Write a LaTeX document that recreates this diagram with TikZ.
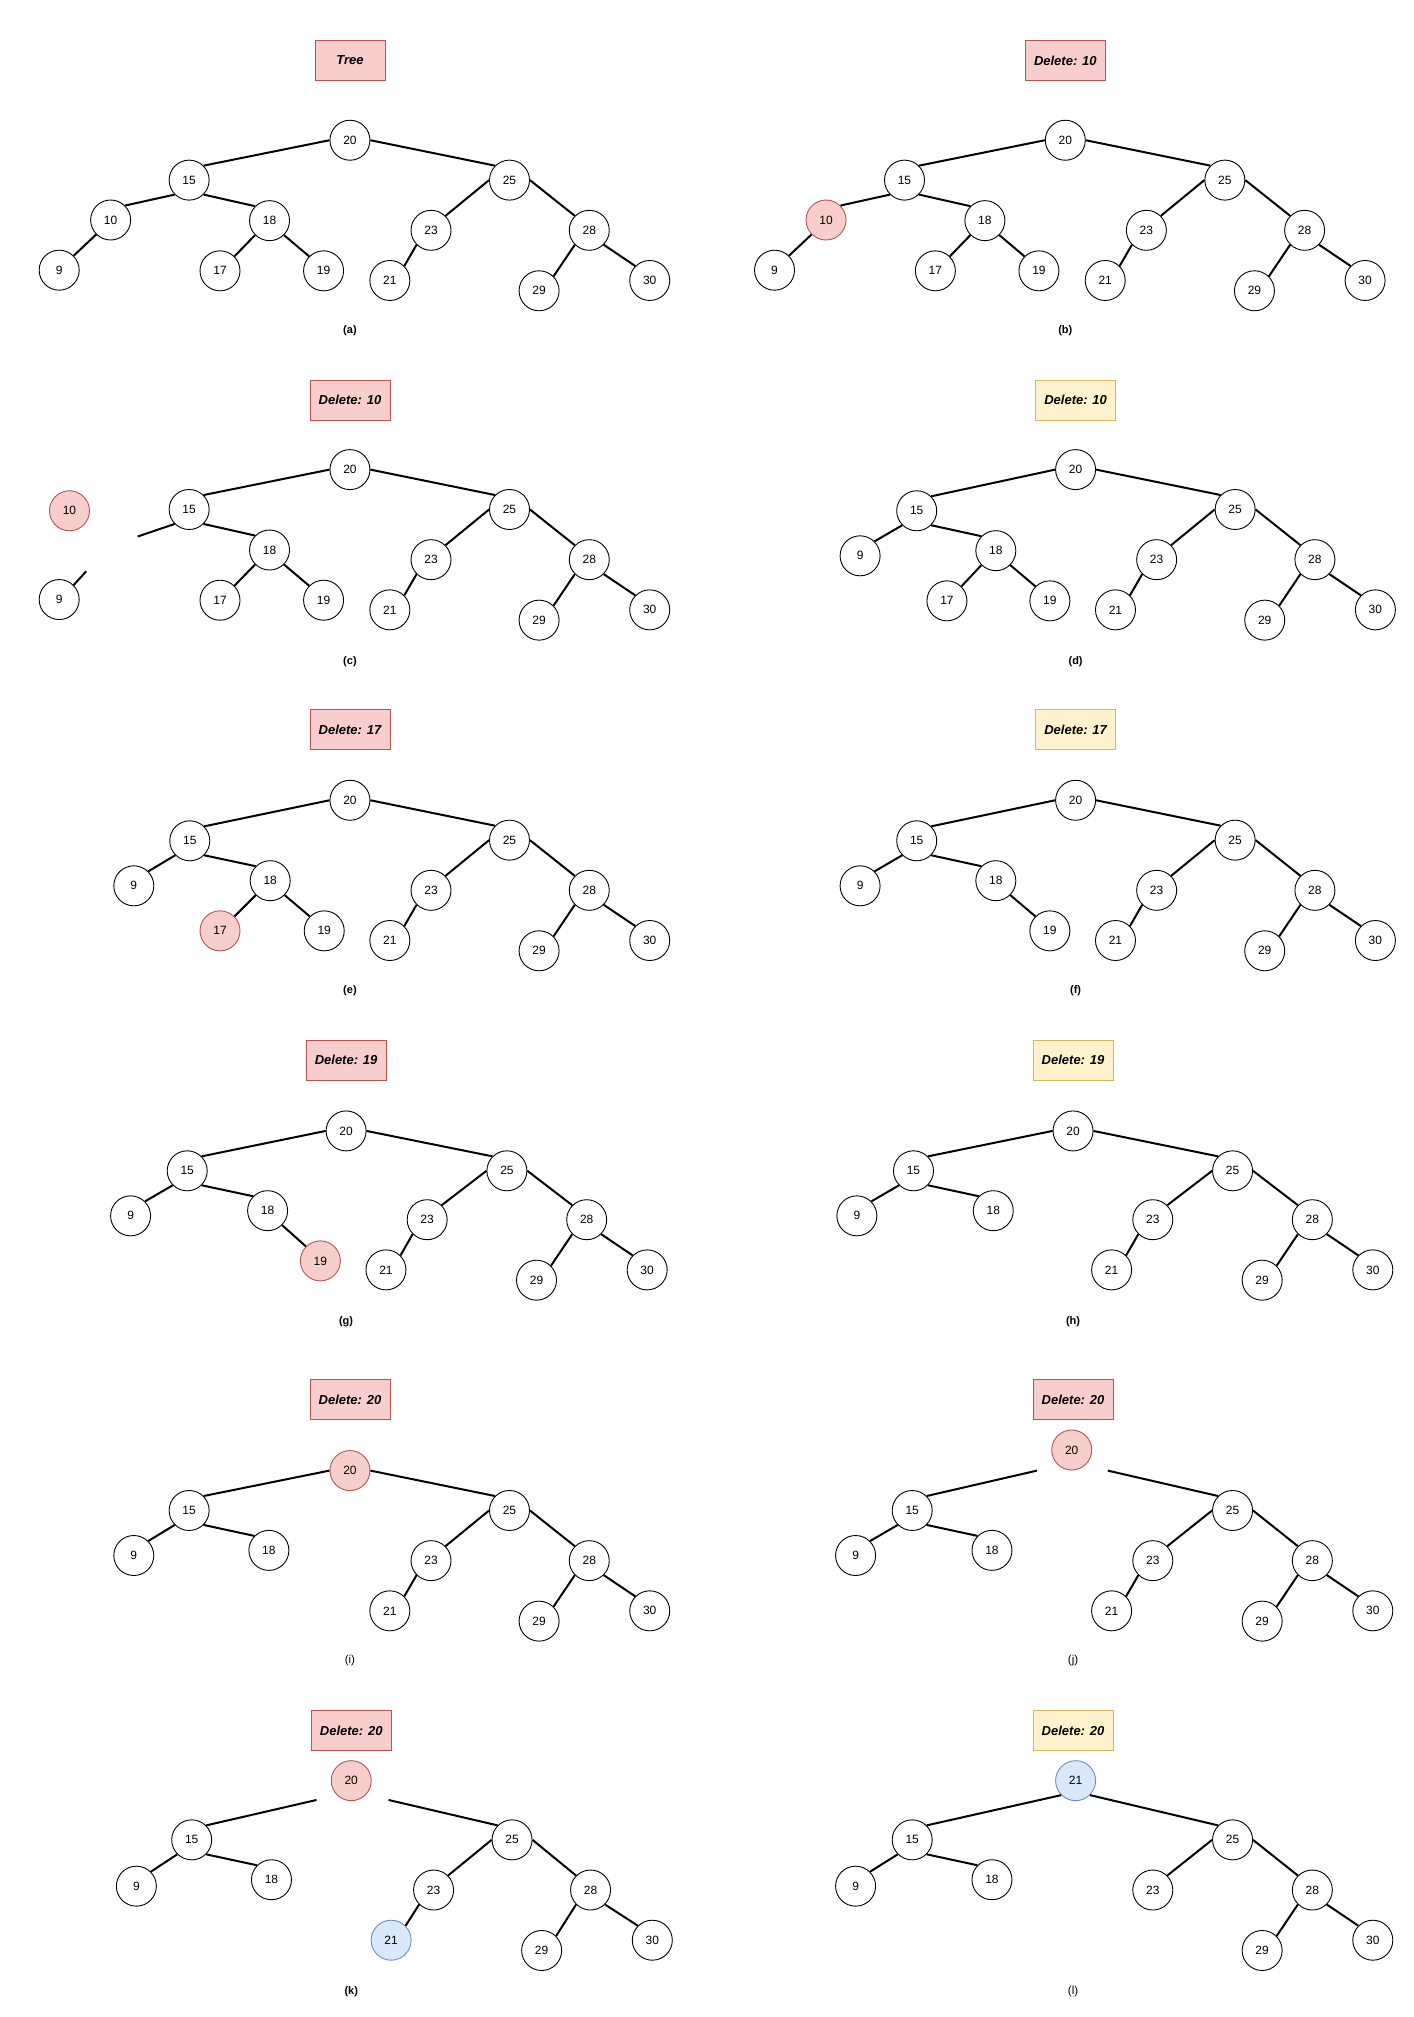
\documentclass[tikz,border=0pt]{standalone}
\usepackage{fontspec}
\setmainfont{Liberation Sans}
\definecolor{redfill}{HTML}{F8CECC}
\definecolor{redline}{HTML}{B85450}
\definecolor{yelfill}{HTML}{FFF2CC}
\definecolor{yelline}{HTML}{D6B656}
\definecolor{bluefill}{HTML}{DAE8FC}
\definecolor{blueline}{HTML}{6C8EBF}
\tikzset{
  nd/.style={circle, draw=black, line width=0.9pt, fill=white, minimum size=40pt, inner sep=0pt, font=\fontsize{12}{14}\selectfont},
  rednd/.style={nd, draw=redline, fill=redfill},
  bluend/.style={nd, draw=blueline, fill=bluefill},
  redbox/.style={rectangle, draw=redline, fill=redfill, line width=0.9pt, minimum width=80pt, minimum height=40pt, font=\bfseries\itshape\fontsize{13}{15}\selectfont},
  yelbox/.style={redbox, draw=yelline, fill=yelfill},
  capb/.style={font=\bfseries\fontsize{11}{13}\selectfont},
  capr/.style={font=\fontsize{11.5}{13}\selectfont},
  edge/.style={line width=2pt}
}
\begin{document}
\begin{tikzpicture}[x=1.28662pt, y=-1.28662pt]
\useasboundingbox[fill=white] (0,0) rectangle (1099,1567.7);

% ---------- (a)
\node[redbox, minimum width=70pt] (at) at (272,47) {Tree};
\node[nd] (a20) at (272,109) {20};
\node[nd] (a15) at (147,140) {15};
\node[nd] (a10) at (86,171) {10};
\node[nd] (a18) at (209.5,171.5) {18};
\node[nd] (a9) at (46,210) {9};
\node[nd] (a17) at (171,210.5) {17};
\node[nd] (a19) at (251.5,210.5) {19};
\node[nd] (a25) at (396,140) {25};
\node[nd] (a23) at (335,179) {23};
\node[nd] (a28) at (458,179) {28};
\node[nd] (a21) at (303,218) {21};
\node[nd] (a29) at (419,226) {29};
\node[nd] (a30) at (505,218) {30};
\node[capb] (al) at (272,257) {(a)};
\draw[edge] (a20.west)--(a15.north east) (a20.east)--(a25.north west)
  (a15.south west)--(a10.north east) (a15.south east)--(a18.north west)
  (a10.south west)--(a9.north east) (a18.south west)--(a17.north east) (a18.south east)--(a19.north west)
  (a25.west)--(a23.north east) (a25.east)--(a28.north west) (a23.south west)--(a21.north east)
  (a28.south west)--(a29.north east) (a28.south east)--(a30.north west);

% ---------- (b)
\node[redbox] (bt) at (828,47) {Delete: 10};
\node[nd] (b20) at (828,109) {20};
\node[nd] (b15) at (703,140) {15};
\node[rednd] (b10) at (642,171) {10};
\node[nd] (b18) at (765.5,171.5) {18};
\node[nd] (b9) at (602,210) {9};
\node[nd] (b17) at (727,210.5) {17};
\node[nd] (b19) at (807.5,210.5) {19};
\node[nd] (b25) at (952,140) {25};
\node[nd] (b23) at (891,179) {23};
\node[nd] (b28) at (1014,179) {28};
\node[nd] (b21) at (859,218) {21};
\node[nd] (b29) at (975,226) {29};
\node[nd] (b30) at (1061,218) {30};
\node[capb] (bl) at (828,257) {(b)};
\draw[edge] (b20.west)--(b15.north east) (b20.east)--(b25.north west)
  (b15.south west)--(b10.north east) (b15.south east)--(b18.north west)
  (b10.south west)--(b9.north east) (b18.south west)--(b17.north east) (b18.south east)--(b19.north west)
  (b25.west)--(b23.north east) (b25.east)--(b28.north west) (b23.south west)--(b21.north east)
  (b28.south west)--(b29.north east) (b28.south east)--(b30.north west);

% ---------- (c)
\node[redbox] (ct) at (272,311) {Delete: 10};
\node[nd] (c20) at (272,365) {20};
\node[nd] (c15) at (147,396) {15};
\node[rednd] (c10) at (54,397) {10};
\node[nd] (c18) at (209.5,427.5) {18};
\node[nd] (c9) at (46,466) {9};
\node[nd] (c17) at (171,466.5) {17};
\node[nd] (c19) at (251.5,466.5) {19};
\node[nd] (c25) at (396,396) {25};
\node[nd] (c23) at (335,435) {23};
\node[nd] (c28) at (458,435) {28};
\node[nd] (c21) at (303,474) {21};
\node[nd] (c29) at (419,482) {29};
\node[nd] (c30) at (505,474) {30};
\coordinate (cf1) at (107,417);
\coordinate (cf2) at (67,444);
\node[capb] (cl) at (272,514) {(c)};
\draw[edge] (c20.west)--(c15.north east) (c20.east)--(c25.north west)
  (c15.south west)--(cf1) (c15.south east)--(c18.north west)
  (c9.north east)--(cf2) (c18.south west)--(c17.north east) (c18.south east)--(c19.north west)
  (c25.west)--(c23.north east) (c25.east)--(c28.north west) (c23.south west)--(c21.north east)
  (c28.south west)--(c29.north east) (c28.south east)--(c30.north west);

% ---------- (d)
\node[yelbox] (dt) at (836,311) {Delete: 10};
\node[nd] (d20) at (836,365) {20};
\node[nd] (d15) at (712.5,397) {15};
\node[nd] (d9) at (668.5,432) {9};
\node[nd] (d18) at (774,428) {18};
\node[nd] (d17) at (736,467) {17};
\node[nd] (d19) at (816,467) {19};
\node[nd] (d25) at (960,396) {25};
\node[nd] (d23) at (899,435) {23};
\node[nd] (d28) at (1022,435) {28};
\node[nd] (d21) at (867,474) {21};
\node[nd] (d29) at (983,482) {29};
\node[nd] (d30) at (1069,474) {30};
\node[capb] (dl) at (836,514) {(d)};
\draw[edge] (d20.west)--(d15.north east) (d20.east)--(d25.north west)
  (d15.south west)--(d9.north east) (d15.south east)--(d18.north west)
  (d18.south west)--(d17.north east) (d18.south east)--(d19.north west)
  (d25.west)--(d23.north east) (d25.east)--(d28.north west) (d23.south west)--(d21.north east)
  (d28.south west)--(d29.north east) (d28.south east)--(d30.north west);

% ---------- (e)
\node[redbox] (et) at (272,567) {Delete: 17};
\node[nd] (e20) at (272,622) {20};
\node[nd] (e15) at (147.5,653.5) {15};
\node[nd] (e9) at (104,688.5) {9};
\node[nd] (e18) at (210,684.5) {18};
\node[rednd] (e17) at (171,723.5) {17};
\node[nd] (e19) at (252,723.5) {19};
\node[nd] (e25) at (396,653) {25};
\node[nd] (e23) at (335,692) {23};
\node[nd] (e28) at (458,692) {28};
\node[nd] (e21) at (303,731) {21};
\node[nd] (e29) at (419,739) {29};
\node[nd] (e30) at (505,731) {30};
\node[capb] (el) at (272,770) {(e)};
\draw[edge] (e20.west)--(e15.north east) (e20.east)--(e25.north west)
  (e15.south west)--(e9.north east) (e15.south east)--(e18.north west)
  (e18.south west)--(e17.north east) (e18.south east)--(e19.north west)
  (e25.west)--(e23.north east) (e25.east)--(e28.north west) (e23.south west)--(e21.north east)
  (e28.south west)--(e29.north east) (e28.south east)--(e30.north west);

% ---------- (f)
\node[yelbox] (ft) at (836,567) {Delete: 17};
\node[nd] (f20) at (836,622) {20};
\node[nd] (f15) at (712.5,653.5) {15};
\node[nd] (f9) at (668.5,688.5) {9};
\node[nd] (f18) at (774,684.5) {18};
\node[nd] (f19) at (816,723.5) {19};
\node[nd] (f25) at (960,653) {25};
\node[nd] (f23) at (899,692) {23};
\node[nd] (f28) at (1022,692) {28};
\node[nd] (f21) at (867,731) {21};
\node[nd] (f29) at (983,739) {29};
\node[nd] (f30) at (1069,731) {30};
\node[capb] (fl) at (836,770) {(f)};
\draw[edge] (f20.west)--(f15.north east) (f20.east)--(f25.north west)
  (f15.south west)--(f9.north east) (f15.south east)--(f18.north west)
  (f18.south east)--(f19.north west)
  (f25.west)--(f23.north east) (f25.east)--(f28.north west) (f23.south west)--(f21.north east)
  (f28.south west)--(f29.north east) (f28.south east)--(f30.north west);

% ---------- (g)
\node[redbox] (gt) at (269,824) {Delete: 19};
\node[nd] (g20) at (269,879) {20};
\node[nd] (g15) at (145.5,910) {15};
\node[nd] (g9) at (101.5,945) {9};
\node[nd] (g18) at (208,941) {18};
\node[rednd] (g19) at (249,980) {19};
\node[nd] (g25) at (394,910) {25};
\node[nd] (g23) at (332,948) {23};
\node[nd] (g28) at (456,948) {28};
\node[nd] (g21) at (300,987) {21};
\node[nd] (g29) at (417,995) {29};
\node[nd] (g30) at (503,987) {30};
\node[capb] (gl) at (269,1027) {(g)};
\draw[edge] (g20.west)--(g15.north east) (g20.east)--(g25.north west)
  (g15.south west)--(g9.north east) (g15.south east)--(g18.north west)
  (g18.south east)--(g19.north west)
  (g25.west)--(g23.north east) (g25.east)--(g28.north west) (g23.south west)--(g21.north east)
  (g28.south west)--(g29.north east) (g28.south east)--(g30.north west);

% ---------- (h)
\node[yelbox] (ht) at (834,824) {Delete: 19};
\node[nd] (h20) at (834,879) {20};
\node[nd] (h15) at (710,910) {15};
\node[nd] (h9) at (666,945) {9};
\node[nd] (h18) at (772,941) {18};
\node[nd] (h25) at (958,910) {25};
\node[nd] (h23) at (896,948) {23};
\node[nd] (h28) at (1020,948) {28};
\node[nd] (h21) at (864,987) {21};
\node[nd] (h29) at (981,995) {29};
\node[nd] (h30) at (1067,987) {30};
\node[capb] (hl) at (834,1027) {(h)};
\draw[edge] (h20.west)--(h15.north east) (h20.east)--(h25.north west)
  (h15.south west)--(h9.north east) (h15.south east)--(h18.north west)
  (h25.west)--(h23.north east) (h25.east)--(h28.north west) (h23.south west)--(h21.north east)
  (h28.south west)--(h29.north east) (h28.south east)--(h30.north west);

% ---------- (i)
\node[redbox] (it) at (272,1088) {Delete: 20};
\node[rednd] (i20) at (272,1143) {20};
\node[nd] (i15) at (147,1174) {15};
\node[nd] (i9) at (104,1209) {9};
\node[nd] (i18) at (209,1205) {18};
\node[nd] (i25) at (396,1174) {25};
\node[nd] (i23) at (335,1213) {23};
\node[nd] (i28) at (458,1213) {28};
\node[nd] (i21) at (303,1252) {21};
\node[nd] (i29) at (419,1260) {29};
\node[nd] (i30) at (505,1252) {30};
\node[capr] (il) at (272,1291) {(i)};
\draw[edge] (i20.west)--(i15.north east) (i20.east)--(i25.north west)
  (i15.south west)--(i9.north east) (i15.south east)--(i18.north west)
  (i25.west)--(i23.north east) (i25.east)--(i28.north west) (i23.south west)--(i21.north east)
  (i28.south west)--(i29.north east) (i28.south east)--(i30.north west);

% ---------- (j)
\node[redbox] (jt) at (834,1088) {Delete: 20};
\node[rednd] (j20) at (833,1127) {20};
\node[nd] (j15) at (709,1174) {15};
\node[nd] (j9) at (665,1209) {9};
\node[nd] (j18) at (771,1205) {18};
\node[nd] (j25) at (958,1174) {25};
\node[nd] (j23) at (896,1213) {23};
\node[nd] (j28) at (1020,1213) {28};
\node[nd] (j21) at (864,1252) {21};
\node[nd] (j29) at (981,1260) {29};
\node[nd] (j30) at (1067,1252) {30};
\coordinate (jf1) at (806,1143);
\coordinate (jf2) at (861,1143);
\node[capr] (jl) at (834,1291) {(j)};
\draw[edge] (jf1)--(j15.north east) (jf2)--(j25.north west)
  (j15.south west)--(j9.north east) (j15.south east)--(j18.north west)
  (j25.west)--(j23.north east) (j25.east)--(j28.north west) (j23.south west)--(j21.north east)
  (j28.south west)--(j29.north east) (j28.south east)--(j30.north west);

% ---------- (k)
\node[redbox] (kt) at (273,1345) {Delete: 20};
\node[rednd] (k20) at (273,1384) {20};
\node[nd] (k15) at (149,1430) {15};
\node[nd] (k9) at (106,1466) {9};
\node[nd] (k18) at (211,1461) {18};
\node[nd] (k25) at (398,1430) {25};
\node[nd] (k23) at (337,1469) {23};
\node[nd] (k28) at (459,1469) {28};
\node[bluend] (k21) at (304,1508) {21};
\node[nd] (k29) at (421,1516) {29};
\node[nd] (k30) at (507,1508) {30};
\coordinate (kf1) at (246,1399);
\coordinate (kf2) at (302,1399);
\node[capb] (kl) at (273,1548) {(k)};
\draw[edge] (kf1)--(k15.north east) (kf2)--(k25.north west)
  (k15.south west)--(k9.north east) (k15.south east)--(k18.north west)
  (k25.west)--(k23.north east) (k25.east)--(k28.north west) (k23.south west)--(k21.north east)
  (k28.south west)--(k29.north east) (k28.south east)--(k30.north west);

% ---------- (l)
\node[yelbox] (lt) at (834,1345) {Delete: 20};
\node[bluend] (l21) at (836,1384) {21};
\node[nd] (l15) at (709,1430) {15};
\node[nd] (l9) at (665,1466) {9};
\node[nd] (l18) at (771,1461) {18};
\node[nd] (l25) at (958,1430) {25};
\node[nd] (l23) at (896,1469) {23};
\node[nd] (l28) at (1020,1469) {28};
\node[nd] (l29) at (981,1516) {29};
\node[nd] (l30) at (1067,1508) {30};
\node[capr] (ll) at (834,1548) {(l)};
\draw[edge] (l21.south west)--(l15.north east) (l21.south east)--(l25.north west)
  (l15.south west)--(l9.north east) (l15.south east)--(l18.north west)
  (l25.west)--(l23.north east) (l25.east)--(l28.north west)
  (l28.south west)--(l29.north east) (l28.south east)--(l30.north west);
\end{tikzpicture}
\end{document}
